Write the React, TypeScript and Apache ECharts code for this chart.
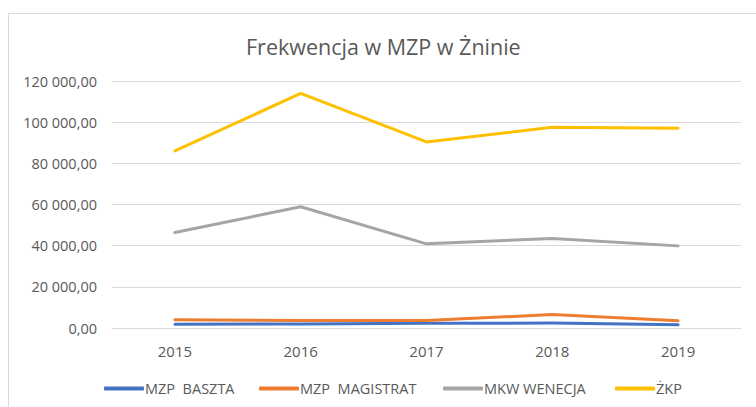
import React, { useEffect, useRef } from "react";
import * as echarts from "echarts";

const years = ["2015", "2016", "2017", "2018", "2019"];
const baszta = [1800, 2000, 2300, 2400, 1600];
const magistrat = [4000, 3600, 3700, 6500, 3500];
const wenecja = [46400, 58900, 40900, 43500, 39900];
const zkp = [86000, 114000, 90400, 97500, 97000];
const seriesNames = ["MZP  BASZTA", "MZP  MAGISTRAT", "MKW WENECJA", "ŻKP"];
const seriesColors = ["#4472C4", "#ED7D31", "#A5A5A5", "#FFC000"];
const legendLefts = [99, 254, 438, 610];

const FONT = "'Open Sans', 'Liberation Sans', sans-serif";
const TXT = "#595959";

function fmt(v: number): string {
  const parts = v.toFixed(2).split(".");
  const int = parts[0].replace(/\B(?=(\d{3})+(?!\d))/g, " ");
  return int + "," + parts[1];
}

export default function App() {
  const ref = useRef<HTMLDivElement>(null);
  useEffect(() => {
    if (!ref.current) return;
    const chart = echarts.init(ref.current, undefined, { renderer: "svg" });
    const data = [baszta, magistrat, wenecja, zkp];
    chart.setOption({
      animation: false,
      backgroundColor: "#ffffff",
      title: {
        text: "Frekwencja w MZP w Żninie",
        left: 241,
        top: 30,
        textStyle: { fontFamily: FONT, fontSize: 21.5, fontWeight: "normal", color: TXT },
      },
      graphic: [
        {
          type: "rect",
          shape: { x: 8.5, y: 13.5, width: 800, height: 500 },
          style: { fill: "none", stroke: "#d9d9d9", lineWidth: 1 },
          silent: true,
        },
      ],
      legend: seriesNames.map((n, i) => ({
        data: [n],
        left: legendLefts[i],
        top: 376,
        icon: "roundRect",
        itemWidth: 40,
        itemHeight: 4,
        itemGap: 0,
        textStyle: { fontFamily: FONT, fontSize: 14.5, color: TXT, padding: [0, 0, 0, -4] },
      })),
      grid: { left: 112, right: 15, top: 81, bottom: 79, containLabel: false },
      xAxis: {
        type: "category",
        data: years,
        boundaryGap: true,
        axisLine: { show: true, lineStyle: { color: "#d9d9d9", width: 1 } },
        axisTick: { show: false },
        axisLabel: { fontFamily: FONT, fontSize: 15, color: TXT, margin: 15 },
      },
      yAxis: {
        type: "value",
        min: 0,
        max: 120000,
        interval: 20000,
        axisLine: { show: false },
        axisTick: { show: false },
        splitLine: { lineStyle: { color: "#d9d9d9", width: 1 } },
        axisLabel: {
          fontFamily: FONT,
          fontSize: 14.5,
          color: TXT,
          margin: 15,
          formatter: (v: number) => fmt(v),
        },
      },
      series: seriesNames.map((n, i) => ({
        name: n,
        type: "line",
        data: data[i],
        showSymbol: false,
        symbol: "none",
        color: seriesColors[i],
        lineStyle: { width: 3, color: seriesColors[i], join: "round", cap: "round" },
      })),
    });
    return () => chart.dispose();
  }, []);
  return (
    <div
      ref={ref}
      style={{ position: "absolute", left: 0, top: 0, width: 756, height: 407 }}
    />
  );
}
